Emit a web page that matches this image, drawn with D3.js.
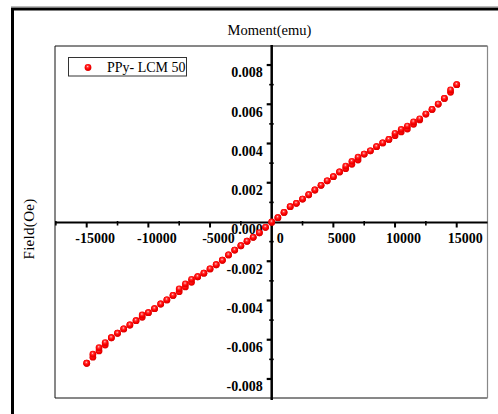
<!DOCTYPE html>
<html>
<head>
<meta charset="utf-8">
<script src="https://cdn.jsdelivr.net/npm/d3@7"></script>
<style>
  body { margin: 0; background: #fff; }
  svg { display: block; }
</style>
</head>
<body>
<svg id="chart"></svg>
<script>
var width = 498;
var height = 414;

// field values (Oe)
var fields = [
  -15000, -14500, -14000, -13500, -13000, -12500, -12000, -11500, -11000, -10500,
  -10000, -9500, -9000, -8500, -8000, -7500, -7000, -6500, -6000, -5500,
  -5000, -4500, -4000, -3500, -3000, -2500, -2000, -1500, -1000, -500,
  0, 500, 1000, 1500, 2000, 2500, 3000, 3500, 4000, 4500,
  5000, 5500, 6000, 6500, 7000, 7500, 8000, 8500, 9000, 9500,
  10000, 10500, 11000, 11500, 12000, 12500, 13000, 13500, 14000, 14500, 15000
];

// moment (emu), upper branch
var momentUpper = [
  -0.00720, -0.00674, -0.00641, -0.00615, -0.00590, -0.00567, -0.00545, -0.00525, -0.00503, -0.00474,
  -0.00462, -0.00442, -0.00418, -0.00397, -0.00374, -0.00341, -0.00316, -0.00292, -0.00279, -0.00261,
  -0.00239, -0.00218, -0.00195, -0.00168, -0.00143, -0.00121, -0.00098, -0.00078, -0.00055, -0.00027,
  0.00000, 0.00022, 0.00049, 0.00078, 0.00095, 0.00117, 0.00139, 0.00163, 0.00187, 0.00210,
  0.00231, 0.00255, 0.00285, 0.00309, 0.00330, 0.00346, 0.00363, 0.00384, 0.00403, 0.00421,
  0.00452, 0.00472, 0.00489, 0.00510, 0.00526, 0.00550, 0.00574, 0.00601, 0.00630, 0.00673, 0.00700
];

// moment (emu), lower branch
var momentLower = [
  -0.00720, -0.00689, -0.00657, -0.00627, -0.00590, -0.00567, -0.00545, -0.00525, -0.00503, -0.00486,
  -0.00462, -0.00442, -0.00418, -0.00397, -0.00374, -0.00355, -0.00331, -0.00307, -0.00279, -0.00261,
  -0.00239, -0.00218, -0.00195, -0.00168, -0.00143, -0.00121, -0.00098, -0.00078, -0.00055, -0.00027,
  -0.00002, 0.00022, 0.00049, 0.00078, 0.00095, 0.00117, 0.00139, 0.00163, 0.00187, 0.00210,
  0.00231, 0.00255, 0.00272, 0.00294, 0.00316, 0.00346, 0.00363, 0.00384, 0.00403, 0.00421,
  0.00440, 0.00459, 0.00474, 0.00498, 0.00520, 0.00550, 0.00574, 0.00601, 0.00630, 0.00661, 0.00700
];

var xTicks = [-15000, -10000, -5000, 0, 5000, 10000, 15000];
var xMinor = [-17500, -12500, -7500, -2500, 2500, 7500, 12500, 17500];
var yTicks = [-0.008, -0.006, -0.004, -0.002, 0, 0.002, 0.004, 0.006, 0.008];
var yTickLabels = ["-0.008", "-0.006", "-0.004", "-0.002", "0.000", "0.002", "0.004", "0.006", "0.008"];
var yMinor = [-0.007, -0.005, -0.003, -0.001, 0.001, 0.003, 0.005, 0.007];
var yMajorMarks = [-0.008, -0.006, -0.004, -0.002, 0.002, 0.004, 0.006, 0.008];

var box = { left: 55, right: 487.5, top: 46, bottom: 398 };

var x = d3.scaleLinear().domain([-17570, 17497]).range([box.left, box.right]);
var y = d3.scaleLinear().domain([-0.00897, 0.00897]).range([box.bottom, box.top]);

var svg = d3.select("#chart").attr("width", width).attr("height", height);

var defs = svg.append("defs");
var grad = defs.append("radialGradient")
  .attr("id", "ball")
  .attr("cx", "45%").attr("cy", "40%").attr("r", "60%")
  .attr("fx", "45%").attr("fy", "35%");
grad.append("stop").attr("offset", "0%").attr("stop-color", "#ffe0e0");
grad.append("stop").attr("offset", "25%").attr("stop-color", "#ff4040");
grad.append("stop").attr("offset", "60%").attr("stop-color", "#ff0000");
grad.append("stop").attr("offset", "100%").attr("stop-color", "#d80000");

svg.append("rect").attr("width", width).attr("height", height).attr("fill", "#fff");

// outer frame
svg.append("line")
  .attr("x1", 11).attr("x2", width).attr("y1", 6.5).attr("y2", 6.5)
  .attr("stroke", "#bbb").attr("stroke-width", 1);
svg.append("path")
  .attr("d", "M12.5," + height + "V9H" + width)
  .attr("fill", "none").attr("stroke", "#000").attr("stroke-width", 3);

// plot box
svg.append("path")
  .attr("d", "M" + box.right + "," + box.top + "H" + box.left + "V" + box.bottom + "H" + box.right)
  .attr("fill", "none").attr("stroke", "#111").attr("stroke-width", 1);
svg.append("line")
  .attr("x1", box.right).attr("x2", box.right).attr("y1", box.top).attr("y2", box.bottom)
  .attr("stroke", "#888").attr("stroke-width", 1.2);

var x0 = x(0);
var y0 = y(0) + 0.5;

// tick labels
svg.append("g")
  .selectAll("text")
  .data(xTicks)
  .enter()
  .append("text")
  .attr("x", function (d) { return x(d) + 8.5; })
  .attr("y", y0 + 20.5)
  .attr("text-anchor", "middle")
  .style("font", "bold 14px 'Liberation Serif', 'Times New Roman', serif")
  .text(function (d) { return d; });

svg.append("g")
  .selectAll("text")
  .data(yTicks)
  .enter()
  .append("text")
  .attr("x", x0 - 9)
  .attr("y", function (d) { return y(d) + 12.3; })
  .attr("text-anchor", "end")
  .style("font", "bold 14px 'Liberation Serif', 'Times New Roman', serif")
  .text(function (d, i) { return yTickLabels[i]; });

// x axis through origin
svg.append("line")
  .attr("x1", box.left).attr("x2", box.right).attr("y1", y0).attr("y2", y0)
  .attr("stroke", "#000").attr("stroke-width", 2.2);
svg.append("g")
  .selectAll("line")
  .data(xTicks.filter(function (d) { return d !== 0; }))
  .enter()
  .append("line")
  .attr("x1", function (d) { return x(d); })
  .attr("x2", function (d) { return x(d); })
  .attr("y1", y0).attr("y2", y0 + 5)
  .attr("stroke", "#000").attr("stroke-width", 2);
svg.append("g")
  .selectAll("line")
  .data(xMinor.filter(function (d) { return x(d) > box.left && x(d) < box.right; }))
  .enter()
  .append("line")
  .attr("x1", function (d) { return x(d); })
  .attr("x2", function (d) { return x(d); })
  .attr("y1", y0 - 1.5).attr("y2", y0 + 3)
  .attr("stroke", "#000").attr("stroke-width", 1.6);

// y axis through origin
svg.append("line")
  .attr("x1", x0).attr("x2", x0).attr("y1", box.top - 1).attr("y2", box.bottom + 2)
  .attr("stroke", "#000").attr("stroke-width", 2.5);
svg.append("g")
  .selectAll("line")
  .data(yMajorMarks)
  .enter()
  .append("line")
  .attr("x1", x0 - 5).attr("x2", x0)
  .attr("y1", function (d) { return y(d); })
  .attr("y2", function (d) { return y(d); })
  .attr("stroke", "#000").attr("stroke-width", 2.2);
svg.append("g")
  .selectAll("line")
  .data(yMinor)
  .enter()
  .append("line")
  .attr("x1", x0 - 2.5).attr("x2", x0 + 2)
  .attr("y1", function (d) { return y(d); })
  .attr("y2", function (d) { return y(d); })
  .attr("stroke", "#000").attr("stroke-width", 1.6);

// data points, both branches
var points = [];
fields.forEach(function (f, i) {
  points.push([f, momentLower[i]]);
  points.push([f, momentUpper[i]]);
});

svg.append("g")
  .selectAll("circle")
  .data(points)
  .enter()
  .append("circle")
  .attr("cx", function (d) { return x(d[0]); })
  .attr("cy", function (d) { return y(d[1]); })
  .attr("r", 3.4)
  .attr("fill", "url(#ball)");

// axis titles
svg.append("text")
  .attr("x", 269.5)
  .attr("y", 34.5)
  .attr("text-anchor", "middle")
  .style("font", "14.5px 'Liberation Serif', 'Times New Roman', serif")
  .text("Moment(emu)");

svg.append("text")
  .attr("transform", "translate(34,229)rotate(-90)")
  .attr("text-anchor", "middle")
  .style("font", "15px 'Liberation Serif', 'Times New Roman', serif")
  .style("letter-spacing", "0.3px")
  .text("Field(Oe)");

// legend
var legend = svg.append("g");
legend.append("rect")
  .attr("x", 68.5).attr("y", 57.5).attr("width", 118).attr("height", 18.5)
  .attr("fill", "#fff").attr("stroke", "#333").attr("stroke-width", 1);
legend.append("circle")
  .attr("cx", 88).attr("cy", 67.5).attr("r", 3.4)
  .attr("fill", "url(#ball)");
legend.append("text")
  .attr("x", 107).attr("y", 72)
  .style("font", "14px 'Liberation Serif', 'Times New Roman', serif")
  .text("PPy- LCM 50");
</script>
</body>
</html>
